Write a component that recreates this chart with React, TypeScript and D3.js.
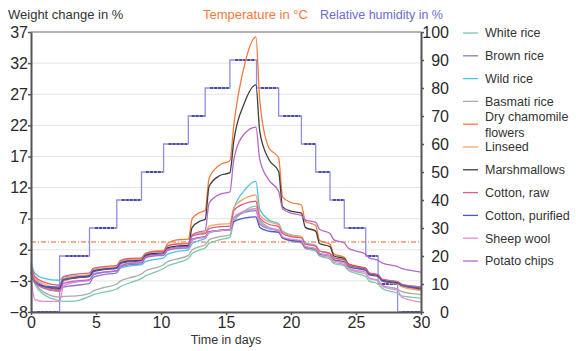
import { useEffect, useRef } from "react";
import * as d3 from "d3";

// sample times (days) shared by all weight series
const DAYS = [
  0, 0.3, 1, 2.2, 2.5, 3.5, 4.5, 4.8, 5.6, 6.6, 6.9, 7.6, 8.5, 8.8, 9.4, 10.2, 10.5, 11.2,
  12.1, 12.4, 13, 13.4, 13.7, 14.5, 15.3, 15.6, 16.4, 17.3, 17.6, 18.3, 19.05, 19.35, 20,
  20.8, 21.1, 21.9, 22.2, 23, 23.3, 24.1, 24.4, 25, 25.75, 26, 26.7, 27, 27.5, 28.2, 28.5,
  29.2, 30,
];

const WHITE_RICE = [
  -1.5, -3.5, -5.2, -6.2, -6.3, -6.2, -5.5, -5.2, -4.8, -4.3, -3.9, -3.3, -2.6, -2.2, -1.7,
  -1.0, -0.6, -0.1, 0.6, 1.4, 2.0, 2.3, 3.0, 3.6, 4.0, 6.5, 8.2, 9.0, 6.8, 5.6, 5.1, 4.0, 3.4,
  3.1, 2.2, 1.8, 1.0, 0.5, -0.2, -0.6, -1.3, -1.8, -2.3, -3.0, -3.5, -4.2, -4.6, -5.0, -5.4,
  -5.6, -5.8,
];
const BROWN_RICE = [
  -0.8, -2.8, -3.8, -4.4, -4.0, -3.7, -3.4, -2.4, -2.0, -1.7, -0.8, -0.4, -0.3, 0.8, 1.1,
  1.2, 2.0, 2.3, 2.4, 3.6, 3.9, 4.0, 4.8, 5.1, 5.2, 7.2, 8.0, 8.3, 6.1, 5.4, 5.1, 4.0, 3.6,
  3.4, 2.5, 2.2, 1.4, 1.1, 0.4, 0.1, -0.6, -0.9, -1.2, -1.9, -2.2, -2.8, -3.0, -3.2, -3.6,
  -3.9, -4.1,
];
const WILD_RICE = [
  0.0, -1.8, -2.6, -2.9, -2.3, -2.2, -2.1, -1.8, -1.6, -1.4, -0.9, -0.6, -0.4, 0.1, 0.4, 0.7,
  1.3, 1.7, 2.0, 3.0, 3.5, 3.8, 4.7, 5.1, 5.3, 8.5, 11.5, 13.0, 8.5, 6.8, 6.2, 5.0, 4.4, 4.1,
  3.1, 2.7, 1.8, 1.4, 0.7, 0.3, -0.4, -0.8, -1.1, -1.8, -2.1, -2.8, -3.0, -3.2, -3.6, -3.8,
  -4.0,
];
const BASMATI_RICE = [
  -1.2, -3.2, -4.8, -5.6, -5.5, -5.4, -5.0, -4.6, -4.1, -3.5, -3.0, -2.5, -1.9, -1.4, -1.0,
  -0.4, 0.1, 0.5, 1.1, 2.0, 2.5, 2.8, 3.6, 4.1, 4.4, 6.8, 8.0, 8.6, 6.5, 5.5, 5.0, 3.9, 3.4,
  3.1, 2.2, 1.9, 1.1, 0.7, 0.0, -0.4, -1.1, -1.5, -1.9, -2.6, -3.0, -3.7, -4.0, -4.3, -4.7,
  -5.0, -5.2,
];
const CHAMOMILE = [
  -1.0, -3.0, -4.0, -4.6, -3.0, -2.5, -2.2, -1.4, -1.0, -0.8, 0.0, 0.4, 0.5, 1.3, 1.7, 1.8,
  3.0, 3.6, 3.7, 7.0, 8.0, 8.3, 13.5, 15.6, 16.3, 22.0, 31.5, 36.2, 26.0, 18.4, 16.8, 10.5,
  9.6, 9.2, 6.6, 5.9, 3.5, 2.9, 1.3, 0.8, -0.2, -0.6, -1.0, -1.8, -2.1, -2.9, -3.2, -3.4,
  -3.9, -4.2, -4.5,
];
const LINSEED = [
  -0.6, -2.6, -3.5, -4.1, -2.6, -2.2, -2.0, -1.2, -0.9, -0.7, 0.1, 0.5, 0.6, 1.4, 1.8, 1.9,
  2.7, 3.0, 3.1, 4.4, 4.7, 4.8, 5.8, 6.1, 6.2, 8.8, 10.2, 10.8, 7.6, 6.5, 6.0, 4.8, 4.3, 4.1,
  3.0, 2.6, 1.8, 1.4, 0.6, 0.3, -0.5, -0.9, -1.2, -2.0, -2.3, -3.0, -3.3, -3.5, -3.9, -4.3,
  -4.6,
];
const MARSHMALLOWS = [
  -1.8, -3.2, -3.9, -4.2, -2.8, -2.4, -2.2, -1.4, -1.1, -0.9, -0.1, 0.2, 0.3, 1.1, 1.4, 1.5,
  2.3, 2.6, 2.7, 5.6, 6.6, 6.9, 12.2, 13.9, 14.4, 19.5, 25.5, 28.5, 21.0, 16.5, 14.6, 8.9,
  8.2, 7.9, 5.6, 5.0, 3.0, 2.5, 1.0, 0.6, -0.3, -0.7, -1.0, -1.8, -2.1, -2.8, -3.1, -3.3,
  -3.7, -4.0, -4.3,
];
const COTTON_RAW = [
  -0.4, -2.3, -3.2, -3.7, -2.3, -1.9, -1.7, -1.0, -0.7, -0.5, 0.3, 0.6, 0.7, 1.4, 1.7, 1.8,
  2.6, 2.9, 3.0, 4.2, 4.5, 4.6, 5.4, 5.7, 5.8, 8.3, 9.4, 9.8, 7.1, 6.1, 5.7, 4.6, 4.1, 3.9,
  2.9, 2.6, 1.8, 1.4, 0.7, 0.4, -0.3, -0.7, -1.0, -1.7, -2.0, -2.7, -2.9, -3.1, -3.5, -3.8,
  -4.0,
];
const COTTON_PURIFIED = [
  -1.5, -3.3, -3.9, -4.0, -2.8, -2.5, -2.3, -1.5, -1.2, -1.0, -0.2, 0.1, 0.2, 0.9, 1.2, 1.3,
  2.1, 2.4, 2.5, 3.7, 4.0, 4.1, 4.9, 5.1, 5.2, 6.5, 7.1, 7.3, 5.6, 5.0, 4.8, 3.9, 3.5, 3.3,
  2.4, 2.1, 1.3, 1.0, 0.3, 0.0, -0.7, -1.0, -1.3, -2.0, -2.3, -3.0, -3.2, -3.4, -3.7, -4.0,
  -4.2,
];
const SHEEP_WOOL = [
  -2.9, -6.0, -6.3, -6.3, -3.8, -3.2, -2.9, -2.0, -1.6, -1.4, -0.5, -0.1, 0.0, 0.8, 1.1, 1.2,
  2.0, 2.3, 2.4, 3.6, 3.9, 4.0, 4.8, 5.1, 5.2, 7.2, 8.2, 8.6, 6.3, 5.5, 5.2, 4.1, 3.7, 3.5,
  2.5, 2.2, 1.4, 1.0, 0.2, -0.1, -0.9, -1.3, -1.6, -2.5, -2.9, -3.8, -4.2, -4.5, -5.6, -6.1,
  -6.4,
];
const POTATO_CHIPS = [
  -1.5, -3.3, -4.2, -4.7, -3.4, -3.0, -2.8, -2.0, -1.6, -1.4, -0.6, -0.2, -0.1, 0.7, 1.0,
  1.1, 1.9, 2.2, 2.3, 4.4, 4.9, 5.1, 9.5, 10.9, 11.3, 16.5, 20.6, 21.7, 16.5, 13.2, 11.4, 8.6,
  7.9, 7.5, 6.8, 6.4, 5.3, 4.6, 3.6, 3.1, 2.3, 1.8, 1.3, 0.7, 0.3, -0.1, -0.4, -0.7, -1.0,
  -1.3, -1.6,
];

// relative humidity steps (value holds from each time until the next)
const HUMIDITY_DAYS = [0, 0.05, 2.2, 4.5, 6.6, 8.5, 10.2, 12.1, 13.4, 15.3, 17.35, 19.05, 20.8, 21.9, 23.0, 24.1, 25.75, 26.7, 28.2, 30];
const HUMIDITY = [40, 0, 20, 30, 40, 50, 60, 70, 80, 90, 80, 70, 60, 50, 40, 30, 20, 10, 0, 0];

const TEMP_DAYS = [0, 30];
const TEMPERATURE = [25, 25];

const WEIGHT_TICKS = [-8, -3, 2, 7, 12, 17, 22, 27, 32, 37];
const RIGHT_TICKS = [0, 10, 20, 30, 40, 50, 60, 70, 80, 90, 100];
const DAY_TICKS = [0, 5, 10, 15, 20, 25, 30];

const SERIES = [
  { name: ["White rice"], values: WHITE_RICE, color: "#7ccaa4" },
  { name: ["Brown rice"], values: BROWN_RICE, color: "#8878c8" },
  { name: ["Wild rice"], values: WILD_RICE, color: "#4cc2e4" },
  { name: ["Basmati rice"], values: BASMATI_RICE, color: "#ababab" },
  { name: ["Dry chamomile", "flowers"], values: CHAMOMILE, color: "#f27a3c" },
  { name: ["Linseed"], values: LINSEED, color: "#f6a66a" },
  { name: ["Marshmallows"], values: MARSHMALLOWS, color: "#3e3e3e" },
  { name: ["Cotton, raw"], values: COTTON_RAW, color: "#d8607e" },
  { name: ["Cotton, purified"], values: COTTON_PURIFIED, color: "#4a5ac4" },
  { name: ["Sheep wool"], values: SHEEP_WOOL, color: "#e888d8" },
  { name: ["Potato chips"], values: POTATO_CHIPS, color: "#b468c8" },
];

const W = 576;
const H = 351;
const FONT = "'Liberation Sans', Arial, sans-serif";

export default function App() {
  const svgRef = useRef<SVGSVGElement>(null);

  useEffect(() => {
    if (!svgRef.current) return;
    const svg = d3.select(svgRef.current);
    svg.selectAll("*").remove();

    const left = 31, right = 421, top = 32, bottom = 312;

    const x = d3.scaleLinear().domain([0, 30]).range([left, right]);
    const yL = d3.scaleLinear().domain([-8, 37]).range([bottom, top]);
    const yR = d3.scaleLinear().domain([0, 100]).range([bottom, top]);

    // grid
    svg.append("g")
      .selectAll("line")
      .data(WEIGHT_TICKS.slice(1, -1))
      .join("line")
      .attr("x1", left)
      .attr("x2", right)
      .attr("y1", (d) => yL(d))
      .attr("y2", (d) => yL(d))
      .attr("stroke", "#e4e4e4")
      .attr("stroke-width", 1);

    // humidity, light step line
    const hum = HUMIDITY_DAYS.map((t, i) => [t, HUMIDITY[i]] as [number, number]);
    const stepLine = d3
      .line<[number, number]>()
      .x((d) => x(d[0]))
      .y((d) => yR(d[1]))
      .curve(d3.curveStepAfter);
    svg.append("path")
      .datum(hum)
      .attr("d", stepLine)
      .attr("fill", "none")
      .attr("stroke", "#8e8ee2")
      .attr("stroke-width", 1.3);

    // darker logged stretch on each plateau
    const plateaus = hum.slice(1, -1).map((d, i) => ({ t0: d[0], t1: hum[i + 2][0], v: d[1] }));
    svg.append("g")
      .selectAll("line")
      .data(plateaus)
      .join("line")
      .attr("x1", (d) => x(d.t0 + (d.t1 - d.t0) * 0.2))
      .attr("x2", (d) => x(d.t1 - (d.t1 - d.t0) * 0.05))
      .attr("y1", (d) => yR(d.v))
      .attr("y2", (d) => yR(d.v))
      .attr("stroke", "#2a2a96")
      .attr("stroke-width", 1.6)
      .attr("stroke-dasharray", "3,1");

    // temperature
    const temp = TEMP_DAYS.map((t, i) => [t, TEMPERATURE[i]] as [number, number]);
    svg.append("path")
      .datum(temp)
      .attr("d", d3.line<[number, number]>().x((d) => x(d[0])).y((d) => yR(d[1])))
      .attr("fill", "none")
      .attr("stroke", "#f0602a")
      .attr("stroke-width", 1.2)
      .attr("stroke-dasharray", "5,2,1,2");

    // weight series
    const line = d3
      .line<number>()
      .x((_, i) => x(DAYS[i]))
      .y((d) => yL(d))
      .curve(d3.curveMonotoneX);
    svg.append("g")
      .selectAll("path")
      .data(SERIES)
      .join("path")
      .attr("d", (s) => line(s.values))
      .attr("fill", "none")
      .attr("stroke", (s) => s.color)
      .attr("stroke-width", 1.3);

    // frame top
    svg.append("line")
      .attr("x1", left).attr("x2", right)
      .attr("y1", top).attr("y2", top)
      .attr("stroke", "#9a9a9a").attr("stroke-width", 1.5);

    const styleAxis = (g: d3.Selection<SVGGElement, unknown, null, undefined>) => {
      g.select(".domain").attr("stroke", "#555").attr("stroke-width", 2);
      g.selectAll(".tick line").attr("stroke", "#555").attr("stroke-width", 1.5);
      g.selectAll(".tick text")
        .attr("fill", "#2a2a2a")
        .attr("font-size", "16px")
        .attr("font-family", FONT);
    };

    svg.append("g")
      .attr("transform", `translate(${left},0)`)
      .call(d3.axisLeft(yL).tickValues(WEIGHT_TICKS).tickSize(3).tickSizeOuter(0).tickPadding(0))
      .call(styleAxis);

    svg.append("g")
      .attr("transform", `translate(${right},0)`)
      .call(d3.axisRight(yR).tickValues(RIGHT_TICKS).tickSize(3).tickSizeOuter(0).tickPadding(0))
      .call(styleAxis)
      .call((g) => g.selectAll(".tick text").attr("text-anchor", "end").attr("x", 28));

    svg.append("g")
      .attr("transform", `translate(0,${bottom})`)
      .call(d3.axisBottom(x).tickValues(DAY_TICKS).tickSize(3).tickSizeOuter(0).tickPadding(2))
      .call(styleAxis);

    // titles
    const title = (tx: number, ty: number, text: string, color: string, size: number, anchor = "start") =>
      svg.append("text")
        .attr("x", tx).attr("y", ty)
        .attr("fill", color)
        .attr("font-size", size)
        .attr("font-family", FONT)
        .attr("text-anchor", anchor)
        .text(text);
    title(8, 19, "Weight change in %", "#333", 13);
    title(203, 19, "Temperature in °C", "#f27a3c", 13);
    title(320, 19, "Relative humidity in %", "#6c6cd0", 12.5);
    title(226, 344, "Time in days", "#333", 12.5, "middle");

    // legend
    const lg = svg.append("g")
      .selectAll("g")
      .data(SERIES)
      .join("g")
      .attr("transform", (_, i) => `translate(463,${33 + i * 22.8})`);
    lg.append("line")
      .attr("x1", 0).attr("x2", 15)
      .attr("stroke", (s) => s.color)
      .attr("stroke-width", 1.3);
    lg.append("text")
      .attr("x", 22)
      .attr("fill", "#333")
      .attr("font-size", 12.5)
      .attr("font-family", FONT)
      .selectAll("tspan")
      .data((s) => s.name.map((n, j) => ({ n, j, k: s.name.length })))
      .join("tspan")
      .attr("x", 22)
      .attr("y", (d) => (d.j - (d.k - 1) / 2) * 16)
      .attr("dy", "0.35em")
      .text((d) => d.n);
  }, []);

  return (
    <svg
      ref={svgRef}
      width={W}
      height={H}
      style={{ position: "absolute", left: 0, top: 0, background: "#fff" }}
    />
  );
}
